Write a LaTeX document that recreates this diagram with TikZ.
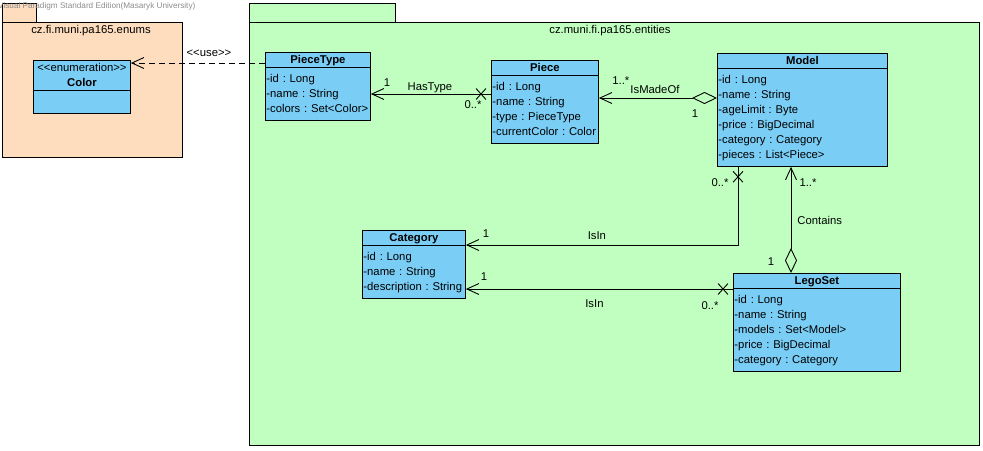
\documentclass[tikz,border=0pt]{standalone}
\usepackage{fontspec}
\setmainfont{Liberation Sans}
\usetikzlibrary{arrows.meta,shapes.multipart,shapes.misc}

\definecolor{peach}{RGB}{253,221,190}
\definecolor{mint}{RGB}{193,255,193}
\definecolor{classblue}{RGB}{122,206,245}

%Kopfzeile und Attributzeile einer Klasse
\newcommand{\ctitle}[1]{\makebox[\hsize]{\smash{#1}}\rule{0pt}{7.5pt}}
\newcommand{\attr}[1]{\strut#1\par}

\tikzset{
	umlclass/.style={draw, fill=classblue, line width=0.9pt, rectangle split, rectangle split parts=2, anchor=north west, align=left, inner xsep=1pt, inner ysep=3.4pt},
	pkgbody/.style={draw, line width=0.9pt, anchor=north west, inner sep=0pt},
	pkglabel/.style={inner sep=0pt},
	lbl/.style={inner sep=0pt},
	xmark/.style={draw, solid, cross out, minimum width=9pt, minimum height=10pt, inner sep=0pt},
	assoc/.style={line width=0.9pt, -{Straight Barb[length=12pt,width=11pt]}},
	aggr/.style={line width=0.9pt, {Diamond[open,length=25pt,width=12pt]}-{Straight Barb[length=12pt,width=11pt]}},
	usedep/.style={line width=0.9pt, dash pattern=on 6pt off 4pt, -{Straight Barb[length=12pt,width=11pt]}}
}

\begin{document}
\frenchspacing
\begin{tikzpicture}
	[
	x=1pt, y=-1pt, font=\fontsize{11.3}{15}\selectfont
	]
	\useasboundingbox (0,0) rectangle (983,450);
	
	%Paket enums
	\node[pkgbody, fill=peach, minimum width=34pt, minimum height=19pt] (enumstab) at (2,3) {};
	\node[pkgbody, fill=peach, minimum width=180pt, minimum height=135pt] (enumspkg) at (2,22) {};
	\node[pkglabel] (enumslabel) at (91,31) {cz.fi.muni.pa165.enums};
	
	%Paket entities
	\node[pkgbody, fill=mint, minimum width=146pt, minimum height=19pt] (entitab) at (249,3) {};
	\node[pkgbody, fill=mint, minimum width=730pt, minimum height=423pt] (entipkg) at (249,22) {};
	\node[pkglabel] (entilabel) at (610,31) {cz.muni.fi.pa165.entities};
	
	%Wasserzeichen
	\node[anchor=west, inner sep=0pt, black!45, font=\fontsize{8.2}{9}\selectfont] (vpmark) at (-2,6) {Visual Paradigm Standard Edition(Masaryk University)};
	
	%Klassen
	\node[umlclass, text width=95pt] (color) at (33,60)
	{\ctitle{<{}<enumeration>{}>}\par\ctitle{\textbf{Color}}
		\nodepart{second}\strut};
	
	\node[umlclass, text width=103pt] (ptype) at (265,52)
	{\ctitle{\textbf{PieceType}}
		\nodepart{second}\attr{-id : Long}\attr{-name : String}\attr{-colors : Set<Color>}};
	
	\node[umlclass, text width=105pt] (piece) at (491,60)
	{\ctitle{\textbf{Piece}}
		\nodepart{second}\attr{-id : Long}\attr{-name : String}\attr{-type : PieceType}\attr{-currentColor : Color}};
	
	\node[umlclass, text width=168pt] (model) at (717,53)
	{\ctitle{\textbf{Model}}
		\nodepart{second}\attr{-id : Long}\attr{-name : String}\attr{-ageLimit : Byte}\attr{-price : BigDecimal}\attr{-category : Category}\attr{-pieces : List<Piece>}};
	
	\node[umlclass, text width=101pt] (category) at (362,230)
	{\ctitle{\textbf{Category}}
		\nodepart{second}\attr{-id : Long}\attr{-name : String}\attr{-description : String}};
	
	\node[umlclass, text width=165pt] (legoset) at (733,273)
	{\ctitle{\textbf{LegoSet}}
		\nodepart{second}\attr{-id : Long}\attr{-name : String}\attr{-models : Set<Model>}\attr{-price : BigDecimal}\attr{-category : Category}};
	
	%Abhaengigkeit use
	\coordinate (useS) at ([yshift=-11pt]ptype.north west);
	\draw[usedep] (useS) -- node[lbl, midway, xshift=11pt, yshift=10pt] (useL) {<{}<use>{}>} (useS -| color.east);
	
	%HasType
	\coordinate (hasS) at ([yshift=-34pt]piece.north west);
	\draw[assoc] (hasS) -- node[xmark, at start, xshift=-10pt] (hasX) {}
		node[lbl, at start, xshift=-18pt, yshift=-11pt] (hasM0) {0..*}
		node[lbl, midway, xshift=-1pt, yshift=6pt] (hasL) {HasType}
		node[lbl, at end, xshift=16pt, yshift=11pt] (hasM1) {1} (hasS -| ptype.east);
	
	%IsMadeOf
	\coordinate (madeS) at ([yshift=-45pt]model.north west);
	\draw[aggr] (madeS) -- node[lbl, at start, xshift=-22pt, yshift=-16pt] (madeM0) {1}
		node[lbl, midway, xshift=-3pt, yshift=9pt] (madeL) {IsMadeOf}
		node[lbl, at end, xshift=22pt, yshift=17pt] (madeM1) {1..*} (madeS -| piece.east);
	
	%IsIn Model - Category
	\coordinate (inS) at ([xshift=21pt]model.south west);
	\coordinate (inE) at ([yshift=-15pt]category.north east);
	\draw[assoc] (inS) |- node[xmark, at start, yshift=-10pt] (inX) {}
		node[lbl, at start, xshift=-18pt, yshift=-16pt] (inM0) {0..*}
		node[lbl, at end, xshift=131pt, yshift=9pt] (inL) {IsIn}
		node[lbl, at end, xshift=20pt, yshift=11pt] (inM1) {1} (inE);
	
	%IsIn LegoSet - Category
	\coordinate (setS) at ([yshift=-16pt]legoset.north west);
	\draw[assoc] (setS) -- node[xmark, at start, xshift=-10pt] (setX) {}
		node[lbl, at start, xshift=-23pt, yshift=-17pt] (setM0) {0..*}
		node[lbl, midway, xshift=-5pt, yshift=-15pt] (setL) {IsIn}
		node[lbl, at end, xshift=18pt, yshift=12pt] (setM1) {1} (setS -| category.east);
	
	%Contains
	\coordinate (contS) at ([xshift=58pt]legoset.north west);
	\draw[aggr] (contS) -- node[lbl, at start, xshift=-20pt, yshift=11pt] (contM0) {1}
		node[lbl, midway, anchor=west, xshift=6pt, yshift=-1pt] (contL) {Contains}
		node[lbl, at end, xshift=17pt, yshift=-16pt] (contM1) {1..*} (contS |- model.south);
	
\end{tikzpicture}
\end{document}
